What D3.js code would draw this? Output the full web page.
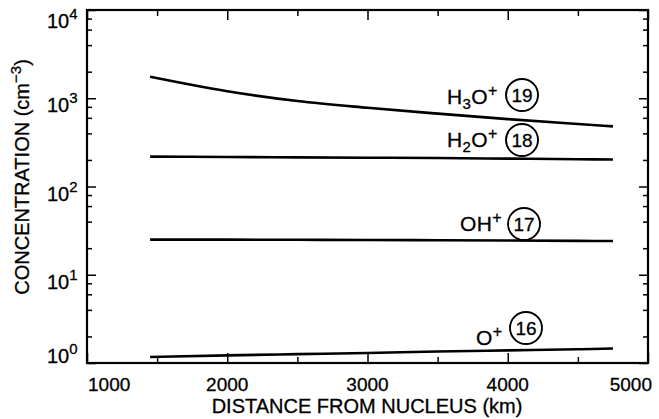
<!DOCTYPE html>
<html>
<head>
<meta charset="utf-8">
<script src="https://cdn.jsdelivr.net/npm/d3@7"></script>
<style>
  body { margin: 0; background: #fff; }
  text { font-family: "Liberation Sans", Arial, sans-serif; fill: #000; stroke: #000; stroke-width: 0.3; }
</style>
</head>
<body>
<div id="chart"></div>
<script>
// values
const distance = [1450, 2000, 2500, 3000, 3500, 4000, 4500, 4750];
const h3oPlus = [1750, 1200, 930, 780, 670, 580, 510, 480];
const h2oPlus = [218, 216, 214, 212, 210, 207, 204, 202];
const ohPlus = [25, 25, 24.9, 24.8, 24.6, 24.4, 24.2, 24.1];
const oPlus = [1.17, 1.22, 1.26, 1.3, 1.35, 1.39, 1.43, 1.46];

const xTicks = [1000, 2000, 3000, 4000, 5000];
const xMinor = [1500, 2500, 3500, 4500];
const yDecades = [0, 1, 2, 3, 4];
const yMinorMult = [2, 4, 6, 8];

const series = [
  {name: "H3O+", mass: "19", values: h3oPlus, sub: "3", lx: 447, ly: 104, cx: 522, cy: 95},
  {name: "H2O+", mass: "18", values: h2oPlus, sub: "2", lx: 447, ly: 147, cx: 522, cy: 140},
  {name: "OH+", mass: "17", values: ohPlus, sub: null, lx: 460, ly: 231, cx: 524, cy: 224},
  {name: "O+", mass: "16", values: oPlus, sub: null, lx: 476, ly: 345, cx: 526, cy: 328}
];

const width = 659, height = 419;
const mLeft = 87, mRight = 648, mTop = 10, mBottom = 363;

const svg = d3.select("#chart").append("svg")
    .attr("width", width)
    .attr("height", height);

const x = d3.scaleLinear().domain([1000, 5000]).range([mLeft, mRight]);
const y = d3.scaleLog().domain([1, 1e4]).range([mBottom, mTop]);

const yMajor = yDecades.map(p => Math.pow(10, p));
const yMinor = [];
yDecades.slice(0, -1).forEach(p => yMinorMult.forEach(m => yMinor.push(m * Math.pow(10, p))));

// ticks pointing inwards on all four sides
function tickAxis(axis, values, size, transform) {
  svg.append("g")
    .attr("transform", transform)
    .call(axis.tickValues(values).tickSize(size).tickFormat(""))
    .call(g => g.select(".domain").remove())
    .selectAll("line").attr("stroke", "#000").attr("stroke-width", 1.5);
}
tickAxis(d3.axisLeft(y), yMajor, -9, `translate(${mLeft},0)`);
tickAxis(d3.axisLeft(y), yMinor, -5, `translate(${mLeft},0)`);
tickAxis(d3.axisRight(y), yMajor, -9, `translate(${mRight},0)`);
tickAxis(d3.axisRight(y), yMinor, -5, `translate(${mRight},0)`);
tickAxis(d3.axisBottom(x), xTicks, -10, `translate(0,${mBottom})`);
tickAxis(d3.axisBottom(x), xMinor, -6, `translate(0,${mBottom})`);
tickAxis(d3.axisTop(x), xTicks, -10, `translate(0,${mTop})`);
tickAxis(d3.axisTop(x), xMinor, -6, `translate(0,${mTop})`);

svg.append("rect")
    .attr("x", mLeft).attr("y", mTop)
    .attr("width", mRight - mLeft).attr("height", mBottom - mTop)
    .attr("fill", "none").attr("stroke", "#000").attr("stroke-width", 2.2);

// tick labels
xTicks.forEach((t, i) => {
  let anchor = "middle", px = x(t);
  if (i === 0) { anchor = "start"; px = x(t) + 1; }
  if (i === xTicks.length - 1) { anchor = "end"; px = x(t) + 4; }
  svg.append("text")
    .attr("x", px).attr("y", 391)
    .attr("text-anchor", anchor)
    .attr("font-size", 19)
    .text(t);
});

yDecades.forEach(p => {
  const off = p === 0 ? 0 : (p === 4 ? 18 : 14);
  const t = svg.append("text")
    .attr("x", 47).attr("y", y(Math.pow(10, p)) + off)
    .attr("font-size", 20);
  t.append("tspan").text("10");
  t.append("tspan").attr("dy", -9).attr("font-size", 15).text(p);
});

// axis titles
svg.append("text")
    .attr("x", 367).attr("y", 413)
    .attr("text-anchor", "middle")
    .attr("font-size", 20)
    .text("DISTANCE FROM NUCLEUS (km)");

const yt = svg.append("text")
    .attr("transform", "translate(29,177) rotate(-90)")
    .attr("text-anchor", "middle")
    .attr("font-size", 20);
yt.append("tspan").text("CONCENTRATION (cm");
yt.append("tspan").attr("dy", -8).attr("font-size", 15).text("\u22123");
yt.append("tspan").attr("dy", 8).text(")");

// curves
const line = d3.line()
    .x((d, i) => x(distance[i]))
    .y(d => y(d))
    .curve(d3.curveMonotoneX);

series.forEach(s => {
  svg.append("path")
    .datum(s.values)
    .attr("fill", "none")
    .attr("stroke", "#000")
    .attr("stroke-width", 2.6)
    .attr("d", line);

  const label = svg.append("text")
    .attr("x", s.lx).attr("y", s.ly)
    .attr("font-size", 21)
    .attr("letter-spacing", 0.4);
  if (s.sub) {
    label.append("tspan").text("H");
    label.append("tspan").attr("dy", 5).attr("font-size", 15).text(s.sub);
    label.append("tspan").attr("dy", -5).text("O");
  } else {
    label.append("tspan").text(s.name.replace("+", ""));
  }
  label.append("tspan").attr("dy", -8).attr("font-size", 16).text("+");

  svg.append("circle")
    .attr("cx", s.cx).attr("cy", s.cy).attr("r", 16)
    .attr("fill", "#fff").attr("stroke", "#000").attr("stroke-width", 1.9);
  svg.append("text")
    .attr("x", s.cx).attr("y", s.cy + 7)
    .attr("text-anchor", "middle")
    .attr("font-size", 19)
    .text(s.mass);
});
</script>
</body>
</html>
